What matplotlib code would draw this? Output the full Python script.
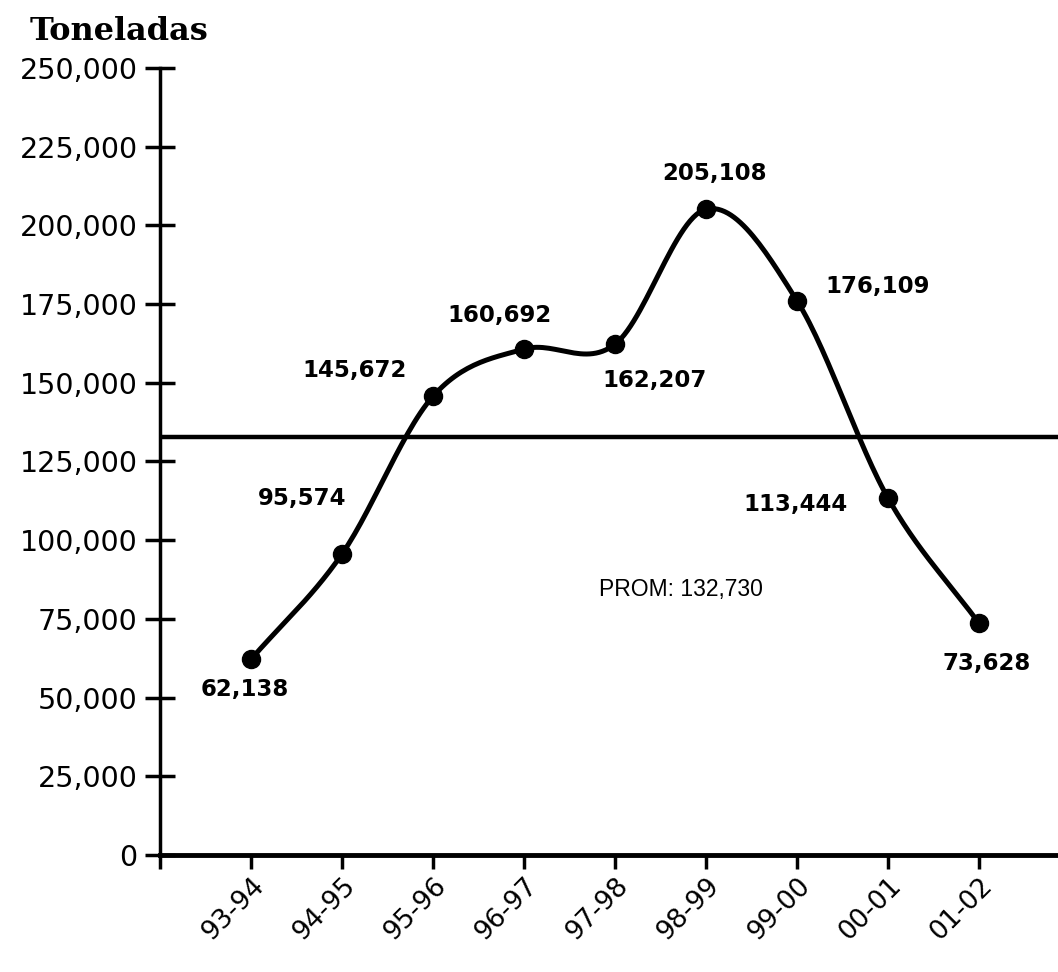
import matplotlib
matplotlib.use("Agg")
import matplotlib.pyplot as plt
import numpy as np

seasons = ["93-94", "94-95", "95-96", "96-97", "97-98", "98-99", "99-00", "00-01", "01-02"]
tons = [62138, 95574, 145672, 160692, 162207, 205108, 176109, 113444, 73628]
average = 132730
yticks = list(range(0, 250001, 25000))

# label offsets in pixels (dx, dy) relative to each point
labelOffsets = [(-6, -30), (-40, 56), (-78, 26), (-24, 34), (40, -36), (9, 36), (81, 14), (-92, -7), (8, -40)]


def catmullRom(x, y, steps=30):
    px = np.concatenate(([2 * x[0] - x[1]], x, [2 * x[-1] - x[-2]]))
    py = np.concatenate(([2 * y[0] - y[1]], y, [2 * y[-1] - y[-2]]))
    outX, outY = [], []
    t = np.linspace(0, 1, steps)
    for i in range(1, len(px) - 2):
        for p, out in ((px, outX), (py, outY)):
            p0, p1, p2, p3 = p[i - 1], p[i], p[i + 1], p[i + 2]
            seg = 0.5 * ((2 * p1) + (-p0 + p2) * t + (2 * p0 - 5 * p1 + 4 * p2 - p3) * t ** 2
                         + (-p0 + 3 * p1 - 3 * p2 + p3) * t ** 3)
            out.extend(seg)
    return np.array(outX), np.array(outY)


fig = plt.figure(figsize=(10.58, 9.72), dpi=100)
ax = fig.add_axes([0.1512, 0.1204, 0.8488, 0.8097])

xs = np.arange(1, len(tons) + 1, dtype=float)
sx, sy = catmullRom(xs, np.array(tons, dtype=float))
ax.plot(sx, sy, color="black", linewidth=3.6, zorder=3)
ax.plot(xs, tons, linestyle="none", marker="o", markersize=13, color="black", zorder=4)

ax.axhline(average, color="black", linewidth=3.2, zorder=2)
ax.text(5.73, 84200, "PROM: " + format(average, ","), fontsize=16.5,
        family="Liberation Sans", ha="center", va="center")

for x, v, (dx, dy) in zip(xs, tons, labelOffsets):
    ax.annotate(format(v, ","), (x, v), xytext=(dx * 0.72, dy * 0.72), textcoords="offset points",
                ha="center", va="center", fontsize=16.5, fontweight="bold", family="DejaVu Sans")

ax.set_xlim(0, 9.87)
ax.set_ylim(0, 250000)
ax.set_yticks(yticks)
ax.set_yticklabels([format(v, ",") for v in yticks], fontsize=20.5, family="DejaVu Sans")
ax.set_xticks(np.arange(0, 10))
ax.set_xticklabels([""] + seasons, rotation=45, ha="right", rotation_mode="anchor",
                   fontsize=19, family="DejaVu Sans")

ax.spines["top"].set_visible(False)
ax.spines["right"].set_visible(False)
ax.spines["left"].set_linewidth(2.5)
ax.spines["bottom"].set_linewidth(3.5)
ax.tick_params(axis="y", direction="inout", length=22, width=2.5, pad=5)
ax.tick_params(axis="x", direction="out", length=10, width=2.5, pad=3)

fig.text(0.028, 0.968, "Toneladas", fontsize=23, fontweight="bold", family="DejaVu Serif",
         ha="left", va="center")

fig.savefig("out.png", dpi=100)
